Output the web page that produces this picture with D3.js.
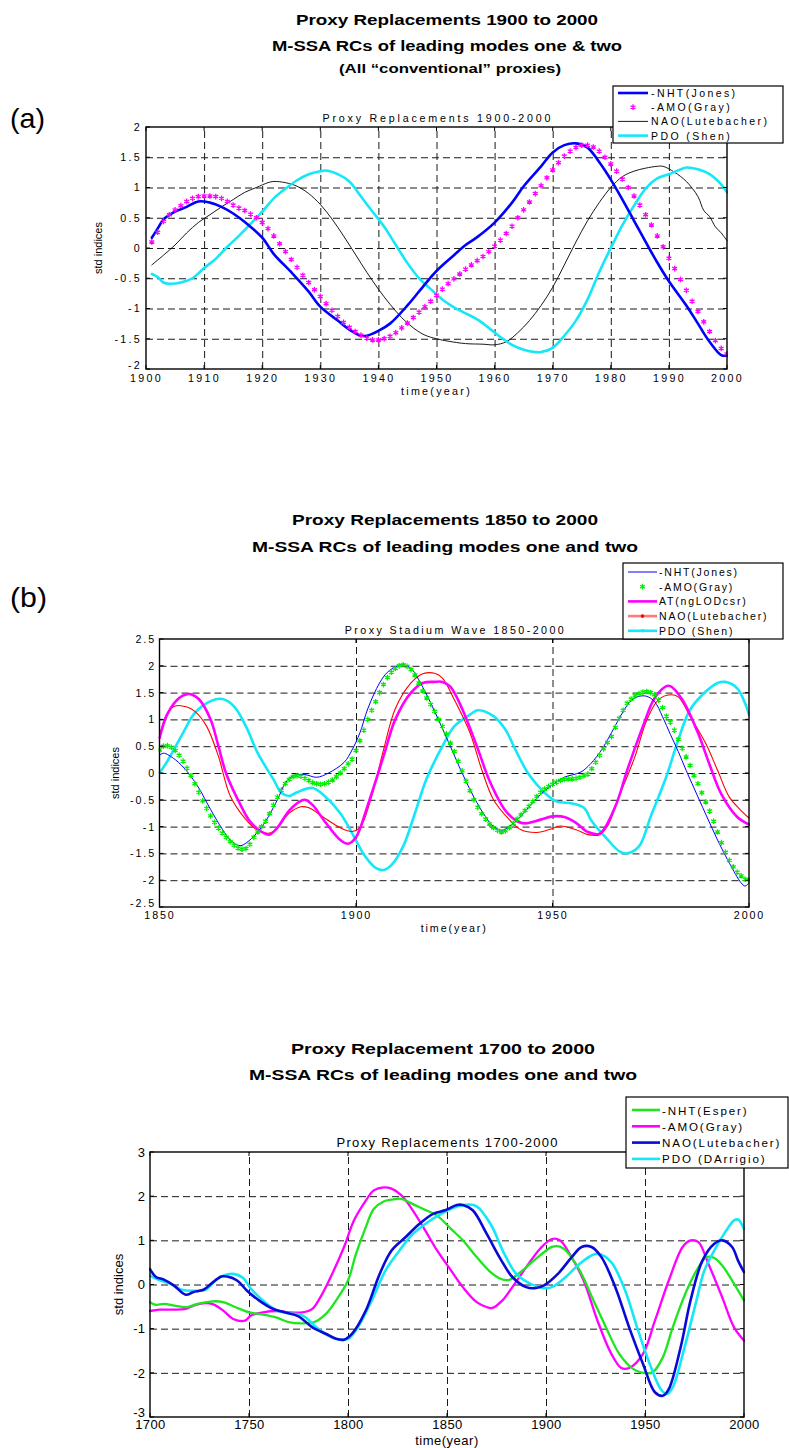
<!DOCTYPE html>
<html>
<head>
<meta charset="utf-8">
<title>Proxy Replacements</title>
<script src="https://cdn.jsdelivr.net/npm/d3@7"></script>
<style>
  body { margin: 0; background: #fff; }
  text { font-family: "Liberation Sans", Arial, sans-serif; fill: #000; }
</style>
</head>
<body>
<svg id="chart" width="789" height="1448"></svg>
<script>
// ---------- panel (a): 1900-2000 ----------
const yearTicksA = [1900, 1910, 1920, 1930, 1940, 1950, 1960, 1970, 1980, 1990, 2000];
const valueTicksA = [-2, -1.5, -1, -0.5, 0, 0.5, 1, 1.5, 2];

const nhtJonesA = [[1901,0.17],[1902,0.32],[1903,0.47],[1905,0.6],[1907,0.68],[1909,0.77],[1911,0.75],[1913,0.68],
  [1915,0.57],[1917,0.43],[1920,0.17],[1922,-0.1],[1925,-0.4],[1928,-0.72],[1930,-0.97],[1933,-1.2],[1935,-1.35],
  [1937,-1.45],[1938,-1.45],[1940,-1.37],[1942,-1.25],[1945,-0.95],[1948,-0.6],[1950,-0.38],[1953,-0.12],[1955,0.05],
  [1957,0.18],[1960,0.42],[1963,0.75],[1965,1.02],[1968,1.35],[1970,1.58],[1972,1.7],[1974,1.73],[1976,1.66],
  [1978,1.42],[1980,1.13],[1982,0.8],[1984,0.45],[1986,0.1],[1988,-0.24],[1990,-0.55],[1993,-0.95],[1995,-1.25],
  [1997,-1.55],[1999,-1.77],[2000,-1.78]];

// yearly values, 1901..2000
const amoGrayAStart = 1901;
const amoGrayA = [0.1,0.26,0.44,0.55,0.63,0.7,0.77,0.82,0.85,0.86,
  0.86,0.85,0.82,0.77,0.71,0.66,0.62,0.56,0.5,0.42,
  0.32,0.2,0.07,-0.06,-0.19,-0.32,-0.45,-0.57,-0.69,-0.8,
  -0.92,-1.03,-1.13,-1.23,-1.31,-1.38,-1.44,-1.49,-1.52,-1.52,
  -1.5,-1.46,-1.4,-1.32,-1.24,-1.15,-1.06,-0.97,-0.88,-0.78,
  -0.68,-0.59,-0.51,-0.43,-0.35,-0.28,-0.21,-0.14,-0.06,0.03,
  0.13,0.24,0.36,0.5,0.63,0.76,0.9,1.03,1.16,1.29,
  1.41,1.52,1.6,1.66,1.7,1.7,1.67,1.6,1.5,1.39,
  1.27,1.14,1.0,0.86,0.71,0.55,0.38,0.2,0.02,-0.17,
  -0.34,-0.52,-0.7,-0.88,-1.05,-1.22,-1.38,-1.53,-1.66,-1.75];

const naoLutA = [[1901,-0.28],[1903,-0.12],[1905,0.05],[1907,0.25],[1909,0.42],[1911,0.55],[1913,0.68],[1915,0.8],
  [1917,0.92],[1919,1.0],[1921,1.08],[1922,1.1],[1924,1.08],[1926,1.02],[1928,0.9],[1930,0.72],[1932,0.48],
  [1934,0.2],[1936,-0.1],[1938,-0.4],[1940,-0.68],[1942,-0.93],[1944,-1.15],[1946,-1.32],[1948,-1.44],[1950,-1.5],
  [1952,-1.54],[1955,-1.58],[1958,-1.59],[1960,-1.6],[1962,-1.55],[1964,-1.4],[1966,-1.2],[1968,-0.95],[1970,-0.65],
  [1972,-0.28],[1974,0.1],[1976,0.45],[1978,0.75],[1980,1.0],[1982,1.18],[1984,1.27],[1986,1.32],[1988,1.35],
  [1989,1.35],[1991,1.25],[1993,1.1],[1995,0.85],[1996,0.62],[1997,0.52],[1998,0.35],[1999,0.25],[2000,0.12]];

const pdoShenA = [[1901,-0.43],[1902,-0.48],[1903,-0.57],[1904,-0.59],[1906,-0.57],[1908,-0.5],[1910,-0.33],
  [1912,-0.18],[1914,0.02],[1916,0.2],[1918,0.4],[1920,0.6],[1922,0.82],[1924,0.98],[1926,1.12],[1928,1.22],
  [1930,1.27],[1931,1.28],[1933,1.22],[1935,1.1],[1937,0.85],[1939,0.6],[1941,0.35],[1943,0.05],[1945,-0.25],
  [1947,-0.5],[1949,-0.68],[1951,-0.85],[1953,-0.98],[1955,-1.08],[1957,-1.18],[1959,-1.32],[1961,-1.47],
  [1963,-1.6],[1965,-1.68],[1967,-1.72],[1968,-1.72],[1970,-1.65],[1972,-1.45],[1974,-1.2],[1976,-0.85],
  [1978,-0.4],[1980,0.0],[1982,0.38],[1984,0.7],[1986,0.98],[1988,1.15],[1990,1.22],[1992,1.3],[1993,1.33],
  [1995,1.3],[1997,1.22],[1999,1.05],[2000,0.92]];

// ---------- panel (b): 1850-2000 ----------
const yearTicksB = [1850, 1900, 1950, 2000];
const valueTicksB = [-2.5, -2, -1.5, -1, -0.5, 0, 0.5, 1, 1.5, 2, 2.5];

const nhtJonesB = [[1850,0.33],[1851,0.37],[1854,0.25],[1857,0.03],[1860,-0.28],[1863,-0.68],[1866,-1.05],
  [1868,-1.25],[1870,-1.35],[1871,-1.35],[1873,-1.25],[1875,-1.1],[1877,-0.9],[1880,-0.5],[1882,-0.19],
  [1884,-0.05],[1887,-0.03],[1890,-0.08],[1893,0.0],[1897,0.2],[1899,0.43],[1901,0.75],[1903,1.2],[1906,1.68],
  [1908,1.88],[1910,1.98],[1912,2.02],[1914,1.95],[1917,1.6],[1920,1.15],[1924,0.5],[1927,0.0],[1930,-0.45],
  [1933,-0.82],[1935,-1.0],[1937,-1.07],[1939,-1.0],[1942,-0.8],[1945,-0.55],[1948,-0.33],[1950,-0.22],
  [1953,-0.08],[1957,0.01],[1959,0.12],[1962,0.38],[1965,0.75],[1968,1.15],[1970,1.35],[1972,1.43],[1974,1.43],
  [1976,1.33],[1978,1.05],[1980,0.72],[1982,0.4],[1984,0.05],[1986,-0.28],[1989,-0.77],[1992,-1.25],
  [1995,-1.68],[1998,-2.05],[1999,-2.11],[2000,-2.05]];

// yearly values, 1850..2000
const amoGrayBStart = 1850;
const amoGrayB = [0.43,0.5,0.51,0.48,0.42,0.33,0.22,0.09,-0.05,-0.2,
  -0.36,-0.52,-0.66,-0.8,-0.92,-1.03,-1.12,-1.2,-1.28,-1.35,
  -1.4,-1.42,-1.41,-1.33,-1.2,-1.1,-1.0,-0.9,-0.76,-0.6,
  -0.45,-0.32,-0.2,-0.12,-0.07,-0.05,-0.06,-0.1,-0.14,-0.18,
  -0.2,-0.21,-0.2,-0.17,-0.13,-0.07,0.0,0.08,0.17,0.26,
  0.42,0.6,0.8,1.0,1.17,1.33,1.5,1.65,1.78,1.88,
  1.95,2.0,2.02,1.99,1.93,1.83,1.68,1.53,1.4,1.28,
  1.15,1.0,0.87,0.73,0.56,0.4,0.22,0.04,-0.15,-0.33,
  -0.5,-0.64,-0.76,-0.86,-0.95,-1.02,-1.07,-1.1,-1.08,-1.02,
  -0.94,-0.86,-0.78,-0.7,-0.62,-0.53,-0.44,-0.36,-0.3,-0.25,
  -0.21,-0.17,-0.14,-0.12,-0.11,-0.11,-0.1,-0.08,-0.05,-0.02,
  0.08,0.2,0.33,0.45,0.57,0.68,0.85,1.02,1.17,1.3,
  1.38,1.44,1.48,1.51,1.52,1.5,1.46,1.36,1.22,1.06,
  0.95,0.8,0.63,0.46,0.3,0.14,-0.05,-0.2,-0.37,-0.54,
  -0.71,-0.9,-1.1,-1.3,-1.48,-1.63,-1.75,-1.85,-1.92,-1.98,-1.99];

const atLodB = [[1850,0.65],[1852,1.1],[1855,1.4],[1857,1.47],[1858,1.47],[1860,1.38],[1863,1.0],[1865,0.5],
  [1867,-0.02],[1871,-0.65],[1873,-0.9],[1876,-1.1],[1878,-1.15],[1880,-1.02],[1883,-0.7],[1886,-0.52],
  [1887,-0.5],[1889,-0.6],[1892,-0.9],[1896,-1.25],[1898,-1.32],[1900,-1.2],[1903,-0.6],[1907,0.31],[1910,1.0],
  [1914,1.5],[1917,1.68],[1920,1.7],[1922,1.7],[1924,1.61],[1927,1.2],[1931,0.45],[1934,-0.15],[1938,-0.7],
  [1941,-0.9],[1943,-0.94],[1947,-0.87],[1950,-0.81],[1953,-0.82],[1956,-0.93],[1959,-1.1],[1962,-1.13],
  [1966,-0.62],[1969,0.05],[1973,0.87],[1976,1.4],[1979,1.62],[1980,1.62],[1983,1.37],[1987,0.75],[1990,0.15],
  [1993,-0.4],[1997,-0.82],[2000,-0.96]];

const naoLutB = [[1850,0.68],[1852,1.12],[1854,1.25],[1857,1.23],[1859,1.15],[1862,0.87],[1865,0.31],[1868,-0.43],
  [1872,-0.87],[1875,-1.07],[1878,-1.12],[1880,-1.02],[1883,-0.75],[1886,-0.63],[1888,-0.65],[1892,-0.84],
  [1896,-1.02],[1899,-1.09],[1901,-1.02],[1904,-0.43],[1907,0.43],[1910,1.2],[1914,1.68],[1917,1.85],
  [1920,1.86],[1922,1.77],[1925,1.37],[1929,0.75],[1932,0.06],[1935,-0.5],[1939,-0.87],[1942,-1.06],
  [1946,-1.11],[1949,-1.06],[1952,-0.99],[1956,-1.06],[1959,-1.15],[1962,-1.15],[1964,-0.99],[1967,-0.43],
  [1971,0.31],[1974,0.99],[1977,1.37],[1980,1.46],[1982,1.42],[1985,1.06],[1989,0.55],[1992,0.05],
  [1995,-0.45],[1998,-0.7],[2000,-0.84]];

const pdoShenB = [[1850,0.0],[1852,0.22],[1856,0.75],[1859,1.12],[1863,1.34],[1866,1.38],[1869,1.24],[1872,0.87],
  [1875,0.37],[1879,-0.12],[1881,-0.37],[1883,-0.43],[1885,-0.36],[1889,-0.28],[1892,-0.43],[1896,-0.75],
  [1899,-1.12],[1902,-1.52],[1905,-1.77],[1907,-1.81],[1909,-1.72],[1912,-1.37],[1915,-0.75],[1918,-0.1],
  [1922,0.5],[1925,0.87],[1929,1.09],[1931,1.17],[1935,1.06],[1938,0.81],[1941,0.37],[1944,-0.03],[1948,-0.37],
  [1951,-0.53],[1955,-0.57],[1958,-0.65],[1960,-0.9],[1964,-1.24],[1967,-1.46],[1969,-1.5],[1972,-1.37],
  [1975,-0.81],[1979,-0.06],[1982,0.62],[1985,1.18],[1989,1.52],[1992,1.68],[1994,1.7],[1997,1.58],
  [1999,1.3],[2000,1.09]];

// ---------- panel (c): 1700-2000 ----------
const yearTicksC = [1700, 1750, 1800, 1850, 1900, 1950, 2000];
const valueTicksC = [-3, -2, -1, 0, 1, 2, 3];

const nhtEsperC = [[1700,-0.4],[1703,-0.46],[1707,-0.44],[1714,-0.49],[1719,-0.51],[1724,-0.44],[1732,-0.38],
  [1737,-0.4],[1743,-0.51],[1750,-0.63],[1757,-0.68],[1764,-0.75],[1770,-0.85],[1777,-0.88],[1783,-0.85],
  [1789,-0.66],[1794,-0.36],[1800,0.09],[1804,0.69],[1809,1.3],[1813,1.71],[1818,1.88],[1822,1.92],[1827,1.94],
  [1831,1.86],[1838,1.71],[1845,1.56],[1852,1.26],[1858,1.0],[1865,0.62],[1872,0.28],[1877,0.13],[1881,0.1],
  [1884,0.17],[1890,0.39],[1897,0.66],[1903,0.85],[1907,0.86],[1910,0.77],[1917,0.32],[1924,-0.36],[1931,-1.04],
  [1937,-1.57],[1944,-1.91],[1951,-2.01],[1954,-1.98],[1959,-1.65],[1964,-0.97],[1971,-0.14],[1977,0.39],
  [1981,0.62],[1985,0.6],[1989,0.43],[1994,0.09],[2000,-0.36]];

const amoGrayC = [[1700,-0.6],[1705,-0.57],[1712,-0.57],[1718,-0.55],[1723,-0.46],[1728,-0.42],[1732,-0.45],
  [1737,-0.59],[1742,-0.78],[1748,-0.82],[1751,-0.7],[1757,-0.63],[1764,-0.6],[1770,-0.63],[1777,-0.63],
  [1782,-0.55],[1786,-0.29],[1792,0.24],[1798,0.85],[1803,1.45],[1809,1.9],[1813,2.13],[1818,2.2],[1822,2.17],
  [1827,2.02],[1831,1.79],[1838,1.3],[1845,0.77],[1852,0.32],[1858,-0.06],[1865,-0.4],[1870,-0.51],[1873,-0.53],
  [1878,-0.36],[1883,-0.06],[1890,0.39],[1897,0.81],[1903,1.03],[1907,1.0],[1912,0.69],[1919,0.09],[1926,-0.82],
  [1933,-1.57],[1938,-1.89],[1942,-1.89],[1949,-1.57],[1955,-0.82],[1962,0.09],[1969,0.85],[1973,1.0],
  [1977,0.96],[1982,0.47],[1989,-0.29],[1995,-0.97],[2000,-1.27]];

const naoLutC = [[1700,0.35],[1703,0.17],[1707,0.11],[1712,-0.02],[1718,-0.23],[1722,-0.17],[1727,-0.12],
  [1731,0.02],[1736,0.18],[1739,0.18],[1744,0.09],[1749,-0.14],[1755,-0.36],[1762,-0.55],[1768,-0.63],
  [1775,-0.72],[1782,-0.97],[1789,-1.12],[1794,-1.23],[1798,-1.25],[1802,-1.12],[1809,-0.59],[1816,0.24],
  [1822,0.77],[1829,1.07],[1836,1.37],[1843,1.6],[1849,1.68],[1855,1.8],[1858,1.8],[1863,1.68],[1870,1.15],
  [1877,0.58],[1883,0.17],[1890,-0.06],[1895,-0.08],[1899,-0.02],[1906,0.24],[1913,0.62],[1918,0.85],
  [1923,0.85],[1928,0.62],[1935,-0.06],[1942,-0.97],[1949,-1.8],[1955,-2.44],[1959,-2.52],[1962,-2.37],
  [1968,-1.42],[1973,-0.36],[1979,0.54],[1985,0.92],[1989,1.0],[1994,0.85],[1997,0.54],[2000,0.28]];

const pdoDarrigioC = [[1700,0.2],[1704,0.11],[1710,0.02],[1716,-0.12],[1722,-0.14],[1728,-0.12],[1732,0.05],
  [1737,0.2],[1742,0.24],[1747,0.15],[1751,-0.1],[1757,-0.36],[1764,-0.59],[1770,-0.65],[1777,-0.7],
  [1784,-0.97],[1791,-1.18],[1796,-1.25],[1800,-1.23],[1805,-0.97],[1812,-0.36],[1819,0.32],[1826,0.77],
  [1832,1.11],[1839,1.37],[1847,1.6],[1854,1.75],[1861,1.81],[1865,1.77],[1872,1.37],[1879,0.69],[1885,0.24],
  [1892,0.02],[1899,-0.08],[1903,-0.06],[1910,0.17],[1917,0.47],[1924,0.68],[1927,0.69],[1933,0.5],
  [1940,-0.14],[1946,-0.97],[1953,-1.87],[1958,-2.37],[1961,-2.48],[1964,-2.33],[1970,-1.42],[1976,-0.36],
  [1980,0.32],[1986,0.85],[1991,1.22],[1995,1.45],[1997,1.47],[2000,1.26]];

// ---------- drawing ----------
const svg = d3.select('#chart');
const serif = '"Liberation Serif", "Times New Roman", serif';
const starType = d3.symbolAsterisk || d3.symbolCross;

function yearly(start, vals) {
  return vals.map((v, i) => [start + i, v]);
}

// the pasted figure is stretched sideways, so headings get a fixed width
function addText(str, x, y, opts) {
  const t = svg.append('text').attr('x', x).attr('y', y).text(str)
    .attr('font-size', opts.size)
    .attr('text-anchor', opts.anchor || 'middle');
  if (opts.bold) t.attr('font-weight', 'bold');
  if (opts.spacing) t.attr('letter-spacing', opts.spacing);
  if (opts.family) t.attr('font-family', opts.family);
  if (opts.width) t.attr('textLength', opts.width).attr('lengthAdjust', opts.adjust || 'spacingAndGlyphs');
  if (opts.rotate) t.attr('transform', `rotate(-90,${x},${y})`).attr('dominant-baseline', 'central');
  return t;
}

function drawPanel(p) {
  const x = d3.scaleLinear().domain(d3.extent(p.xTicks)).range([p.left, p.right]);
  const y = d3.scaleLinear().domain(d3.extent(p.yTicks)).range([p.bottom, p.top]);
  const w = p.right - p.left, h = p.bottom - p.top;
  const g = svg.append('g');

  // dashed grid
  const gx = g.append('g').attr('transform', `translate(0,${p.bottom})`)
    .call(d3.axisBottom(x).tickValues(p.xTicks.slice(1, -1)).tickSize(-h).tickFormat(''));
  const gy = g.append('g').attr('transform', `translate(${p.left},0)`)
    .call(d3.axisLeft(y).tickValues(p.yTicks.slice(1, -1)).tickSize(-w).tickFormat(''));
  [gx, gy].forEach(a => {
    a.select('.domain').remove();
    a.selectAll('line').attr('stroke', '#1a1a1a').attr('stroke-width', 1).attr('stroke-dasharray', '7,4');
  });

  // series
  svg.append('clipPath').attr('id', 'clip-' + p.id)
    .append('rect').attr('x', p.left - 1).attr('y', p.top - 1).attr('width', w + 2).attr('height', h + 2);
  const plot = g.append('g').attr('clip-path', `url(#clip-${p.id})`);
  const line = d3.line().x(d => x(d[0])).y(d => y(d[1])).curve(d3.curveCatmullRom.alpha(0.5));
  const star = d3.symbol().type(starType).size(p.markSize || 22);

  p.series.forEach(s => {
    if (s.marks) {
      plot.append('g').selectAll('path').data(s.points).join('path')
        .attr('transform', d => `translate(${x(d[0])},${y(d[1])})`)
        .attr('d', star).attr('fill', 'none')
        .attr('stroke', s.color).attr('stroke-width', 1.3);
    } else {
      plot.append('path').datum(s.points).attr('d', line)
        .attr('fill', 'none').attr('stroke', s.color).attr('stroke-width', s.width)
        .attr('stroke-linejoin', 'round').attr('stroke-linecap', 'round');
    }
  });

  // box with inward ticks
  g.append('rect').attr('x', p.left).attr('y', p.top).attr('width', w).attr('height', h)
    .attr('fill', 'none').attr('stroke', '#000').attr('stroke-width', 1.4);
  const tk = g.append('g').attr('stroke', '#000').attr('stroke-width', 1);
  p.xTicks.forEach(v => {
    tk.append('line').attr('x1', x(v)).attr('x2', x(v)).attr('y1', p.bottom).attr('y2', p.bottom - 4);
    tk.append('line').attr('x1', x(v)).attr('x2', x(v)).attr('y1', p.top).attr('y2', p.top + 4);
  });
  p.yTicks.forEach(v => {
    tk.append('line').attr('y1', y(v)).attr('y2', y(v)).attr('x1', p.left).attr('x2', p.left + 4);
    tk.append('line').attr('y1', y(v)).attr('y2', y(v)).attr('x1', p.right).attr('x2', p.right - 4);
  });

  // tick labels (lowest value label nudged up, as in the MATLAB print)
  const xl = g.append('g').attr('transform', `translate(0,${p.bottom})`)
    .call(d3.axisBottom(x).tickValues(p.xTicks).tickSize(0).tickPadding(p.xPad).tickFormat(d3.format('d')));
  const yl = g.append('g').attr('transform', `translate(${p.left},0)`)
    .call(d3.axisLeft(y).tickValues(p.yTicks).tickSize(0).tickPadding(p.yPad).tickFormat(d => String(d)));
  [xl, yl].forEach(a => {
    a.select('.domain').remove();
    a.selectAll('text').attr('font-family', '"Liberation Sans", Arial, sans-serif')
      .attr('font-size', p.tickFont).attr('letter-spacing', p.tickSpacing).attr('fill', '#000');
  });
  yl.selectAll('.tick').filter(d => d === p.yTicks[0]).select('text').attr('dy', '-0.05em');

  // axis titles
  const cx = (p.left + p.right) / 2;
  addText(p.subtitle, cx, p.top - 5, { size: p.subFont, width: p.subWidth, adjust: 'spacing' });
  addText('time(year)', cx, p.xLabelY, { size: p.xLabelFont || p.tickFont, spacing: p.xLabelSpacing || p.tickSpacing });
  addText('std indices', p.yLabelX, (p.top + p.bottom) / 2, { size: p.yLabelFont, rotate: true });
}

function drawLegend(l) {
  const g = svg.append('g');
  g.append('rect').attr('x', l.x0).attr('y', l.y0).attr('width', l.x1 - l.x0).attr('height', l.y1 - l.y0)
    .attr('fill', '#fff').attr('stroke', '#000').attr('stroke-width', 1.2);
  const star = d3.symbol().type(starType).size(22);
  const dot = d3.symbol().type(d3.symbolCircle).size(10);
  l.items.forEach((it, i) => {
    const cy = l.firstRow + i * l.step;
    const mid = (l.lineX0 + l.lineX1) / 2;
    if (it.width) {
      g.append('line').attr('x1', l.lineX0).attr('x2', l.lineX1).attr('y1', cy).attr('y2', cy)
        .attr('stroke', it.legendColor || it.color).attr('stroke-width', it.width);
    }
    if (it.marker === 'star') {
      g.append('path').attr('transform', `translate(${mid},${cy})`).attr('d', star)
        .attr('fill', 'none').attr('stroke', it.color).attr('stroke-width', 1.3);
    }
    if (it.marker === 'dot') {
      g.append('path').attr('transform', `translate(${mid},${cy})`).attr('d', dot).attr('fill', it.color);
    }
    g.append('text').attr('x', l.textX).attr('y', cy).text(it.label)
      .attr('font-size', l.font).attr('letter-spacing', l.spacing).attr('dominant-baseline', 'central');
  });
}

// headings
addText('Proxy Replacements 1900 to 2000', 447, 25, { size: 14.5, bold: true, width: 302 });
addText('M-SSA RCs of leading modes one & two', 447, 51, { size: 14.5, bold: true, width: 350 });
addText('(All \u201cconventional\u201d proxies)', 450, 73, { size: 12, bold: true, width: 222 });
addText('(a)', 10, 128, { size: 28, anchor: 'start', family: serif, width: 35 });

addText('Proxy Replacements 1850 to 2000', 445, 525, { size: 14.5, bold: true, width: 306 });
addText('M-SSA RCs of leading modes one and two', 445, 552, { size: 14.5, bold: true, width: 386 });
addText('(b)', 10, 607, { size: 28, anchor: 'start', family: serif, width: 37 });

addText('Proxy Replacement 1700 to 2000', 443, 1054, { size: 14.5, bold: true, width: 304 });
addText('M-SSA RCs of leading modes one and two', 443, 1080, { size: 14.5, bold: true, width: 388 });

// panel (a)
drawPanel({
  id: 'a', left: 146, right: 727, top: 127, bottom: 369,
  xTicks: yearTicksA, yTicks: valueTicksA,
  tickFont: 10.7, tickSpacing: 2.3, xPad: 5.6, yPad: 4,
  subtitle: 'Proxy Replacements 1900-2000', subFont: 10.7, subWidth: 228,
  xLabelY: 395, yLabelX: 97.5, yLabelFont: 11,
  series: [
    { points: naoLutA, color: '#000', width: 0.9 },
    { points: pdoShenA, color: '#14e8f8', width: 2.6 },
    { points: nhtJonesA, color: '#0000ff', width: 2.6 },
    { points: yearly(amoGrayAStart, amoGrayA), color: '#ff00ff', marks: true }
  ]
});
drawLegend({
  x0: 613, x1: 783, y0: 86, y1: 143, firstRow: 93, step: 14.2,
  lineX0: 618, lineX1: 648, textX: 651, font: 10.5, spacing: 2.4,
  items: [
    { label: '-NHT(Jones)', color: '#0000ff', width: 2.6 },
    { label: '-AMO(Gray)', color: '#ff00ff', marker: 'star' },
    { label: 'NAO(Lutebacher)', color: '#000', width: 0.9 },
    { label: 'PDO (Shen)', color: '#14e8f8', width: 2.6 }
  ]
});

// panel (b)
drawPanel({
  id: 'b', left: 159.5, right: 749, top: 639, bottom: 907,
  xTicks: yearTicksB, yTicks: valueTicksB,
  tickFont: 10.7, tickSpacing: 1.9, xPad: 4.6, yPad: 3.5,
  subtitle: 'Proxy Stadium Wave 1850-2000', subFont: 10.7, subWidth: 219,
  xLabelY: 932, yLabelX: 115, yLabelFont: 11,
  series: [
    { points: pdoShenB, color: '#14e8f8', width: 2.6 },
    { points: naoLutB, color: '#ff0000', width: 1.1 },
    { points: atLodB, color: '#ff00ff', width: 2.6 },
    { points: nhtJonesB, color: '#0000ff', width: 1 },
    { points: yearly(amoGrayBStart, amoGrayB), color: '#00ee00', marks: true }
  ]
});
drawLegend({
  x0: 623, x1: 783, y0: 563, y1: 639, firstRow: 572, step: 14.7,
  lineX0: 628, lineX1: 657, textX: 659, font: 10.5, spacing: 1.8,
  items: [
    { label: '-NHT(Jones)', color: '#0000ff', width: 1 },
    { label: '-AMO(Gray)', color: '#00ee00', marker: 'star' },
    { label: 'AT(ngLODcsr)', color: '#ff00ff', width: 2.6 },
    { label: 'NAO(Lutebacher)', color: '#ff0000', legendColor: '#ff7a7a', width: 2.6, marker: 'dot' },
    { label: 'PDO (Shen)', color: '#14e8f8', width: 2.6, marker: 'dot' }
  ]
});

// panel (c)
drawPanel({
  id: 'c', left: 150, right: 744, top: 1152, bottom: 1417,
  xTicks: yearTicksC, yTicks: valueTicksC,
  tickFont: 13, tickSpacing: 0.4, xPad: 3, yPad: 4.5,
  subtitle: 'Proxy Replacements 1700-2000', subFont: 13, subWidth: 221,
  xLabelY: 1445, xLabelFont: 13, xLabelSpacing: 0.5, yLabelX: 118, yLabelFont: 13,
  series: [
    { points: amoGrayC, color: '#ff00ff', width: 2.3 },
    { points: nhtEsperC, color: '#1ee61e', width: 2.3 },
    { points: pdoDarrigioC, color: '#14e8f8', width: 2.6 },
    { points: naoLutC, color: '#0a0ad8', width: 2.6 }
  ]
});
drawLegend({
  x0: 626, x1: 788, y0: 1097, y1: 1168, firstRow: 1110, step: 16.3,
  lineX0: 632, lineX1: 660, textX: 662, font: 11.6, spacing: 1.9,
  items: [
    { label: '-NHT(Esper)', color: '#1ee61e', width: 2.6 },
    { label: '-AMO(Gray)', color: '#ff00ff', width: 2.6 },
    { label: 'NAO(Lutebacher)', color: '#0a0ad8', width: 2.6 },
    { label: 'PDO (DArrigio)', color: '#14e8f8', width: 2.6 }
  ]
});
</script>
</body>
</html>
